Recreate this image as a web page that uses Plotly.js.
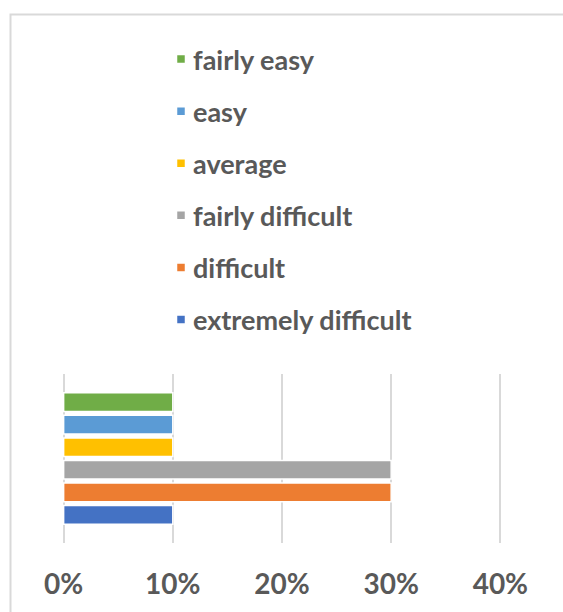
<!DOCTYPE html>
<html>
<head>
<meta charset="utf-8">
<script src="https://cdn.plot.ly/plotly-3.0.1.min.js"></script>
<style>html,body{margin:0;padding:0;background:#fff;}#chart{width:563px;height:612px;}</style>
</head>
<body>
<div id="chart"></div>
<script>
// Data (bottom to top)
const category = ['Difficulty'];
const seriesNames = ['extremely difficult', 'difficult', 'fairly difficult', 'average', 'easy', 'fairly easy'];
const seriesValues = [0.10, 0.30, 0.30, 0.10, 0.10, 0.10];
const seriesColors = ['#4472C4', '#ED7D31', '#A5A5A5', '#FFC000', '#5B9BD5', '#70AD47'];
const tickValues = [0, 0.1, 0.2, 0.3, 0.4];
const tickLabels = ['0%', '10%', '20%', '30%', '40%'];

const traces = seriesNames.map((name, i) => ({
  type: 'bar',
  orientation: 'h',
  name: name,
  y: category,
  x: [seriesValues[i]],
  legendgroup: 'g' + i,
  legendrank: seriesNames.length - i,
  marker: { color: seriesColors[i], line: { color: '#ffffff', width: 1.5 } },
  hoverinfo: 'skip'
}));

const fontFam = 'Lato, "Open Sans", sans-serif';

const layout = {
  width: 563,
  height: 612,
  margin: { l: 62, r: 61, t: 374, b: 69, autoexpand: false },
  paper_bgcolor: '#ffffff',
  plot_bgcolor: '#ffffff',
  font: { family: fontFam, color: '#595959' },
  barmode: 'group',
  bargap: 0.2,
  bargroupgap: 0.17,
  showlegend: true,
  legend: {
    xref: 'container', yref: 'container',
    x: 153 / 563, y: 1 - 35 / 612,
    xanchor: 'left', yanchor: 'top',
    traceorder: 'grouped',
    tracegroupgap: 14,
    maxheight: 600,
    font: { size: 27, color: '#595959', family: fontFam, weight: 'bold' },
    bgcolor: 'rgba(0,0,0,0)'
  },
  xaxis: {
    range: [-0.0015, 0.4015],
    tickvals: tickValues,
    ticktext: tickLabels,
    showgrid: true,
    gridcolor: '#d9d9d9',
    gridwidth: 2,
    zeroline: true,
    zerolinecolor: '#d9d9d9',
    zerolinewidth: 2,
    showline: false,
    ticks: '',
    ticklabelstandoff: 22,
    tickfont: { size: 28, color: '#595959', family: fontFam, weight: 'bold' },
    fixedrange: true
  },
  yaxis: {
    showticklabels: false,
    showgrid: false,
    zeroline: false,
    showline: false,
    ticks: '',
    fixedrange: true
  },
  shapes: [{
    type: 'rect',
    xref: 'paper', yref: 'paper',
    x0: (10.5 - 62) / 440, x1: 1.3,
    y0: -0.6, y1: (543 - 14.5) / 169,
    line: { color: '#d9d9d9', width: 2 },
    fillcolor: 'rgba(0,0,0,0)',
    layer: 'below'
  }]
};

Plotly.newPlot('chart', traces, layout, { staticPlot: true, displayModeBar: false }).then(function (gd) {
  // smaller legend swatches, sitting closer to their labels (as in the reference)
  gd.querySelectorAll('.legend .legendpoints path').forEach(function (p) {
    p.setAttribute('d', 'M4.5,4.5H-4.5V-4.5H4.5Z');
    var t = p.getAttribute('transform') || '';
    p.setAttribute('transform', t + ' translate(8,0)');
  });
});
</script>
</body>
</html>
